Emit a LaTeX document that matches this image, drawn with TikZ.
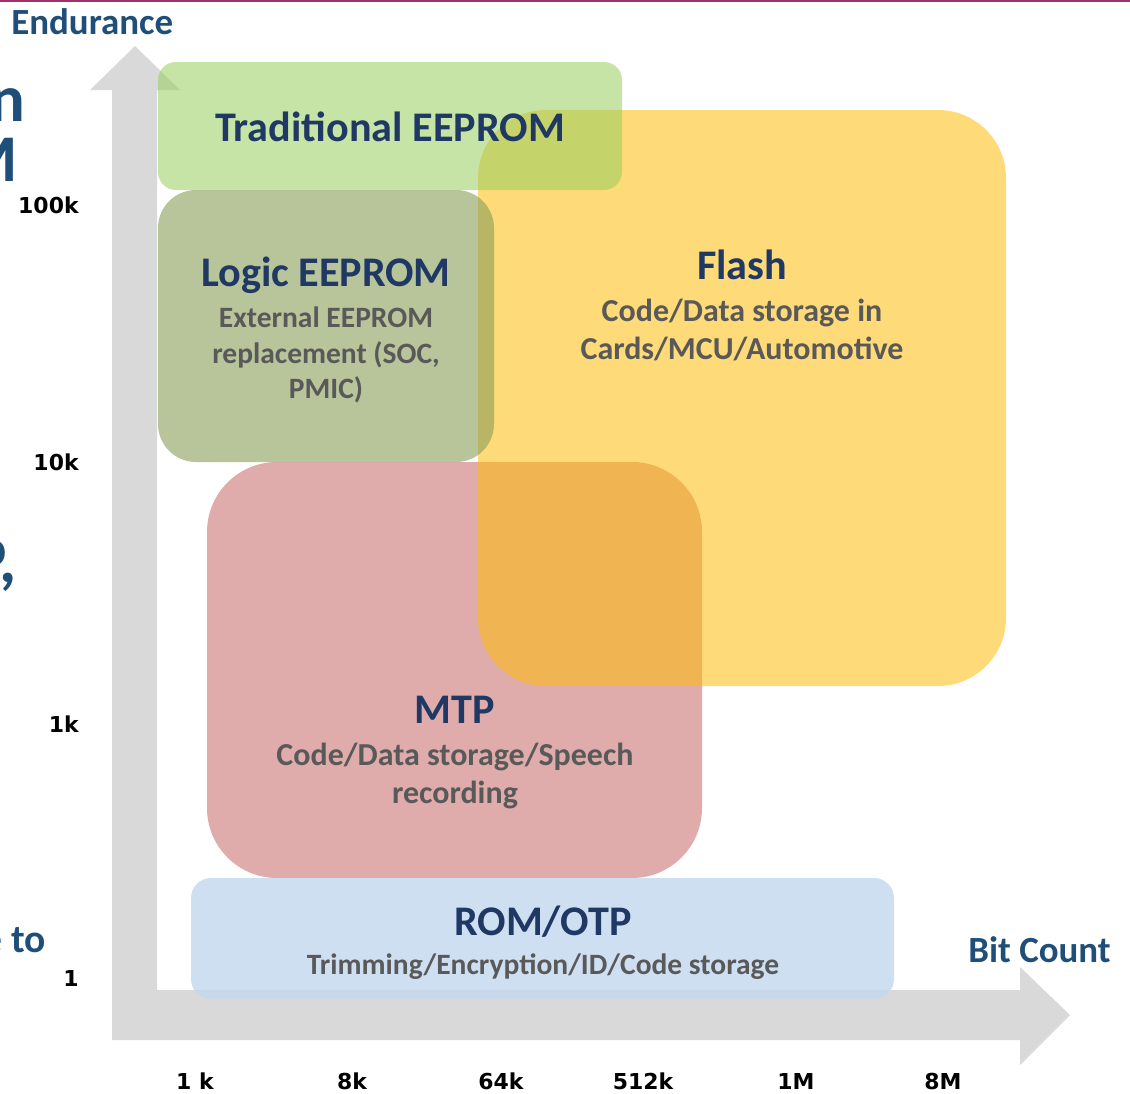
\documentclass[tikz,border=0pt]{standalone}
\usepackage{fontspec}
\setmainfont{Carlito}
\newfontfamily\tickfont{DejaVu Sans}
\usetikzlibrary{positioning}
\definecolor{rulecol}{RGB}{160,50,110}
\definecolor{axiscol}{RGB}{217,217,217}
\definecolor{tradcol}{RGB}{153,209,97}
\definecolor{logiccol}{RGB}{137,158,88}
\definecolor{flashcol}{RGB}{255,188,7}
\definecolor{mtpcol}{RGB}{203,117,115}
\definecolor{romcol}{RGB}{196,216,239}
\definecolor{titlecol}{RGB}{32,56,100}
\definecolor{desccol}{RGB}{89,89,89}
\definecolor{labelcol}{RGB}{31,78,121}
\tikzset{
  tradbox/.style={fill=tradcol,fill opacity=0.57,rounded corners=0.36cm},
  logicbox/.style={fill=logiccol,fill opacity=0.6,rounded corners=0.76cm},
  flashbox/.style={fill=flashcol,fill opacity=0.54,rounded corners=1.36cm},
  mtpbox/.style={fill=mtpcol,fill opacity=0.6,rounded corners=1.4cm},
  rombox/.style={fill=romcol,fill opacity=0.8,rounded corners=0.4cm},
  title/.style={inner sep=0pt,text=titlecol,font=\bfseries\fontsize{24}{28}\selectfont},
  desc/.style={inner sep=0pt,align=center,text=desccol,
               font=\bfseries\fontsize{16.8}{20.4}\selectfont},
  bigdesc/.style={desc,font=\bfseries\fontsize{18.2}{21.5}\selectfont},
  axislabel/.style={inner sep=0pt,text=labelcol,font=\bfseries\fontsize{21}{25}\selectfont},
  tick/.style={inner sep=0pt,font=\tickfont\bfseries\fontsize{12.5}{14}\selectfont},
  fragment/.style={inner sep=0pt,text=labelcol,font=\bfseries\fontsize{38}{44}\selectfont},
}

\begin{document}
\begin{tikzpicture}[x=0.02cm,y=-0.02cm]
    \clip (0,0) rectangle (1130,1093);
    \fill[white] (0,0) rectangle (1130,1093);
    \fill[rulecol] (0,0) rectangle (1130,2);

    % Axes
    \fill[axiscol] (112,1040) -- (112,90) -- (90,90) -- (135,46) -- (180,90)
        -- (157,90) -- (157,990) -- (1020,990) -- (1020,967) -- (1070,1015)
        -- (1020,1065) -- (1020,1040) -- cycle;

    % Regions
    \fill[mtpbox]   (207,462) rectangle (702,878);
    \fill[flashbox] (478,110) rectangle (1006,686);
    \fill[logicbox] (158,190) rectangle (494,462);
    \fill[tradbox]  (158,62)  rectangle (622,190);
    \fill[rombox]   (191,878) rectangle (894,999);

    % Region texts
    \node[title]   (trad)      at (390,127) {Traditional EEPROM};
    \node[title]   (logic)     at (326,275) {Logic EEPROM};
    \node[desc]    (logicdesc) at (326,355) {External EEPROM\\replacement (SOC,\\PMIC)};
    \node[title]   (flash)     at (742,265) {Flash};
    \node[bigdesc] (flashdesc) at (742,330) {Code/Data storage in\\Cards/MCU/Automotive};
    \node[title]   (mtp)       at (455,710) {MTP};
    \node[bigdesc] (mtpdesc)   at (455,776) {Code/Data storage/Speech\\recording};
    \node[title]   (rom)       at (543,922) {ROM/OTP};
    \node[desc]    (romdesc)   at (543,967) {Trimming/Encryption/ID/Code storage};

    % Axis labels and ticks
    \node[axislabel,anchor=west] (endurance) at (11,22)   {Endurance};
    \node[axislabel,anchor=east] (bitcount)  at (1111,950) {Bit Count};
    \foreach \lab/\y [count=\i] in {100k/205,10k/462,1k/724,1/978}
        \node[tick,anchor=east] (ytick\i) at (79,\y) {\lab};
    \foreach \lab/\x [count=\i] in {1 k/195,8k/352,64k/501,512k/643,1M/796,8M/943}
        \node[tick] (xtick\i) at (\x,1081) {\lab};

    % Cut-off words at the left edge
    \node[fragment,anchor=east] (fraga) at (26,105) {n};
    \node[fragment,anchor=east] (fragb) at (18,160) {M};
    \node[fragment,anchor=east] (fragc) at (17,565) {P,};
    \node[fragment,anchor=east,font=\bfseries\fontsize{22.5}{27}\selectfont] (fragd) at (46,940) {e to};
\end{tikzpicture}
\end{document}
